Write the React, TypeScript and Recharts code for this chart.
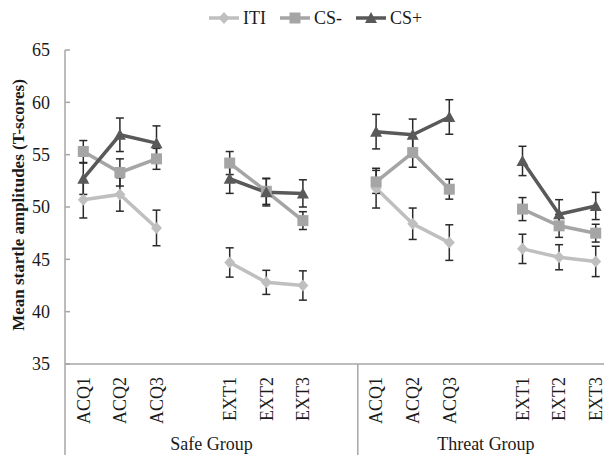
import React from 'react';
import { LineChart, Line, XAxis, YAxis, ErrorBar } from 'recharts';

// ---------- data ----------
const categories = [
  'S-ACQ1', 'S-ACQ2', 'S-ACQ3', 'S-gap', 'S-EXT1', 'S-EXT2', 'S-EXT3', 'S-gap2',
  'T-ACQ1', 'T-ACQ2', 'T-ACQ3', 'T-gap', 'T-EXT1', 'T-EXT2', 'T-EXT3',
];
const tickLabels = [
  'ACQ1', 'ACQ2', 'ACQ3', '', 'EXT1', 'EXT2', 'EXT3', '',
  'ACQ1', 'ACQ2', 'ACQ3', '', 'EXT1', 'EXT2', 'EXT3',
];
const groupLabels = ['Safe Group', 'Threat Group'];
const seriesNames = ['ITI', 'CS-', 'CS+'];

const itiValues = [50.7, 51.2, 48.0, null, 44.7, 42.8, 42.5, null, 51.8, 48.4, 46.6, null, 46.0, 45.2, 44.8];
const itiErrors = [1.75, 1.6, 1.7, null, 1.4, 1.15, 1.4, null, 1.9, 1.5, 1.7, null, 1.4, 1.2, 1.45];
const csMinusValues = [55.3, 53.3, 54.6, null, 54.2, 51.5, 48.7, null, 52.4, 55.2, 51.7, null, 49.8, 48.2, 47.5];
const csMinusErrors = [1.05, 1.3, 1.0, null, 1.1, 1.25, 0.85, null, 1.1, 1.4, 0.95, null, 1.1, 1.1, 0.85];
const csPlusValues = [52.7, 56.9, 56.1, null, 52.7, 51.4, 51.3, null, 57.2, 56.9, 58.6, null, 54.4, 49.3, 50.1];
const csPlusErrors = [1.5, 1.6, 1.65, null, 1.4, 1.3, 1.3, null, 1.65, 1.5, 1.65, null, 1.4, 1.4, 1.3];
const yTicks = [35, 40, 45, 50, 55, 60, 65];

const data = categories.map((key, i) => ({
  key,
  iti: itiValues[i],
  itiErr: itiErrors[i],
  csMinus: csMinusValues[i],
  csMinusErr: csMinusErrors[i],
  csPlus: csPlusValues[i],
  csPlusErr: csPlusErrors[i],
}));

// ---------- layout / style ----------
const W = 612;
const H = 455;
const MARGIN = { top: 50, right: -2, bottom: 0, left: 0 };
const Y_AXIS_W = 65;
const X_AXIS_H = 91;
const PLOT_BOTTOM = H - MARGIN.bottom - X_AXIS_H;
const PLOT_W = W - MARGIN.left - MARGIN.right - Y_AXIS_W;
const STEP = PLOT_W / categories.length;

const FONT = '"Liberation Serif", "Times New Roman", serif';
const AXIS_COLOR = '#a6a6a6';
const TEXT_COLOR = '#1a1a1a';
const COLORS = { iti: '#bfbfbf', csMinus: '#a5a5a5', csPlus: '#595959' };
const ERR_COLOR = '#2a2a2a';

const diamond = (cx: number, cy: number, fill: string) => (
  <polygon points={`${cx},${cy - 6} ${cx + 5.5},${cy} ${cx},${cy + 6} ${cx - 5.5},${cy}`} fill={fill} />
);
const square = (cx: number, cy: number, fill: string) => (
  <rect x={cx - 5.5} y={cy - 5.5} width={11} height={11} fill={fill} />
);
const triangle = (cx: number, cy: number, fill: string) => (
  <polygon points={`${cx},${cy - 6} ${cx + 6},${cy + 5} ${cx - 6},${cy + 5}`} fill={fill} />
);

const makeDot = (shape: (cx: number, cy: number, fill: string) => any, fill: string) => (p: any) => {
  if (p.cx == null || p.cy == null || p.value == null) return <g key={`d-${p.index}`} />;
  return <g key={`d-${p.index}`}>{shape(p.cx, p.cy, fill)}</g>;
};

const XTick = (props: any) => {
  const { x, y, index } = props;
  const label = tickLabels[index];
  const sepX = x - STEP / 2;
  return (
    <g>
      {label ? (
        <text
          x={x}
          y={y}
          transform={`rotate(-90, ${x}, ${y})`}
          textAnchor="end"
          dy="0.35em"
          fontFamily={FONT}
          fontSize={18}
          fill={TEXT_COLOR}
        >
          {label}
        </text>
      ) : null}
      {index === 0 || index === 8 ? (
        <line x1={sepX} x2={sepX} y1={PLOT_BOTTOM} y2={H} stroke={AXIS_COLOR} strokeWidth={1.5} />
      ) : null}
      {index === 3 ? (
        <text x={x + STEP / 2} y={450} textAnchor="middle" fontFamily={FONT} fontSize={18} fill={TEXT_COLOR}>
          {groupLabels[0]}
        </text>
      ) : null}
      {index === 11 ? (
        <text x={x} y={450} textAnchor="middle" fontFamily={FONT} fontSize={18} fill={TEXT_COLOR}>
          {groupLabels[1]}
        </text>
      ) : null}
    </g>
  );
};

const YTick = (props: any) => {
  const { x, y, payload } = props;
  const axisX = x + 15;
  return (
    <g>
      <line x1={axisX} x2={axisX + 5} y1={y} y2={y} stroke={AXIS_COLOR} strokeWidth={1.5} />
      <text x={x} y={y} dy="0.35em" textAnchor="end" fontFamily={FONT} fontSize={18} fill={TEXT_COLOR}>
        {payload.value}
      </text>
    </g>
  );
};

const YLabel = (props: any) => {
  const vb = props.viewBox;
  const cy = vb ? vb.y + vb.height / 2 - 2 : 205;
  const cx = 18;
  return (
    <text
      x={cx}
      y={cy}
      transform={`rotate(-90, ${cx}, ${cy})`}
      textAnchor="middle"
      dy="0.35em"
      fontFamily={FONT}
      fontWeight="bold"
      fontSize={17}
      fill={TEXT_COLOR}
    >
      Mean startle amplitudes (T-scores)
    </text>
  );
};

const LegendIcon = ({ color, shape }: { color: string; shape: (cx: number, cy: number, fill: string) => any }) => (
  <svg width={30} height={14} style={{ display: 'block' }}>
    <line x1={0} x2={30} y1={7} y2={7} stroke={color} strokeWidth={3.5} />
    {shape(15, 7, color)}
  </svg>
);

const legendItems = [
  { name: seriesNames[0], color: COLORS.iti, shape: diamond },
  { name: seriesNames[1], color: COLORS.csMinus, shape: square },
  { name: seriesNames[2], color: COLORS.csPlus, shape: triangle },
];

export default function App() {
  return (
    <div style={{ position: 'relative', width: W, height: H, marginLeft: -8, marginTop: -8, background: '#fff' }}>
      <div
        style={{
          position: 'absolute',
          left: 209,
          top: 8,
          display: 'flex',
          alignItems: 'center',
          fontFamily: FONT,
          fontSize: 18,
          color: TEXT_COLOR,
          lineHeight: '20px',
          zIndex: 2,
        }}
      >
        {legendItems.map((it) => (
          <div key={it.name} style={{ display: 'flex', alignItems: 'center', marginRight: 14 }}>
            <LegendIcon color={it.color} shape={it.shape} />
            <span style={{ marginLeft: 4 }}>{it.name}</span>
          </div>
        ))}
      </div>
      <LineChart width={W} height={H} data={data} margin={MARGIN}>
        <XAxis
          dataKey="key"
          type="category"
          interval={0}
          height={X_AXIS_H}
          padding={{ left: STEP / 2, right: STEP / 2 }}
          tickSize={0}
          tickMargin={13}
          tickLine={false}
          axisLine={{ stroke: AXIS_COLOR, strokeWidth: 1.5 }}
          tick={(p: any) => <XTick {...p} />}
        />
        <YAxis
          type="number"
          domain={[35, 65]}
          ticks={yTicks}
          interval={0}
          width={Y_AXIS_W}
          tickSize={0}
          tickMargin={15}
          tickLine={false}
          axisLine={{ stroke: AXIS_COLOR, strokeWidth: 1.5 }}
          tick={(p: any) => <YTick {...p} />}
          label={(p: any) => <YLabel {...p} />}
        />
        <Line
          dataKey="iti"
          name={seriesNames[0]}
          stroke={COLORS.iti}
          strokeWidth={3.5}
          isAnimationActive={false}
          dot={makeDot(diamond, COLORS.iti)}
          activeDot={false}
          connectNulls={false}
        >
          <ErrorBar dataKey="itiErr" width={4} stroke={ERR_COLOR} strokeWidth={1.5} direction="y" isAnimationActive={false} />
        </Line>
        <Line
          dataKey="csMinus"
          name={seriesNames[1]}
          stroke={COLORS.csMinus}
          strokeWidth={3.5}
          isAnimationActive={false}
          dot={makeDot(square, COLORS.csMinus)}
          activeDot={false}
          connectNulls={false}
        >
          <ErrorBar dataKey="csMinusErr" width={4} stroke={ERR_COLOR} strokeWidth={1.5} direction="y" isAnimationActive={false} />
        </Line>
        <Line
          dataKey="csPlus"
          name={seriesNames[2]}
          stroke={COLORS.csPlus}
          strokeWidth={3.5}
          isAnimationActive={false}
          dot={makeDot(triangle, COLORS.csPlus)}
          activeDot={false}
          connectNulls={false}
        >
          <ErrorBar dataKey="csPlusErr" width={4} stroke={ERR_COLOR} strokeWidth={1.5} direction="y" isAnimationActive={false} />
        </Line>
      </LineChart>
    </div>
  );
}
